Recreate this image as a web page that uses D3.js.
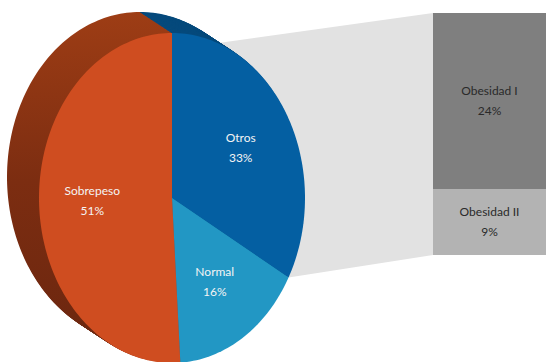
<!DOCTYPE html>
<html lang="en">
<head>
<meta charset="utf-8"/>
<title>Pie of bar</title>
<script src="https://d3js.org/d3.v7.min.js"></script>
<style>
  body { margin: 0; background: #fff; }
  text { font-family: Lato, "Open Sans", sans-serif; font-size: 12px; }
</style>
</head>
<body>
<script>
var w = 546, h = 362;

// main pie
var pieLabels = ["Otros", "Normal", "Sobrepeso"];
var pieValues = [33, 16, 51];
var pieColours = ["#045fa2", "#2297c4", "#cf4d20"];
var sideColours = ["#064a7c", "#1a789e", "url(#sideOrange)"];

// bar that splits "Otros"
var barLabels = ["Obesidad I", "Obesidad II"];
var barValues = [24, 9];
var barColours = ["#7f7f7f", "#b3b3b3"];

// geometry of the tilted pie
var cx = 172, cy = 198, rx = 133, ry = 165;
var depthX = -32, depthY = -21, steps = 32;
var barX = 433, barW = 113, barTop = 13, barBottom = 255;

var svg = d3.select("body").append("svg")
    .attr("width", w)
    .attr("height", h);

var grad = svg.append("defs").append("linearGradient")
    .attr("id", "sideOrange")
    .attr("gradientUnits", "userSpaceOnUse")
    .attr("x1", 0).attr("y1", 0).attr("x2", 0).attr("y2", h);
grad.append("stop").attr("offset", 0).attr("stop-color", "#a03e15");
grad.append("stop").attr("offset", 0.5).attr("stop-color", "#7c2d11");
grad.append("stop").attr("offset", 1).attr("stop-color", "#6a260f");

var pie = d3.pie().sort(null).startAngle(0).endAngle(2 * Math.PI);
var arcs = pie(pieValues);

// point on the ellipse, angle clockwise from top
function pt(a, k, ox, oy) {
    return [cx + ox + rx * k * Math.sin(a), cy + oy - ry * k * Math.cos(a)];
}
function slicePath(d, ox, oy) {
    var n = Math.max(4, Math.ceil((d.endAngle - d.startAngle) * 40));
    var pts = [[cx + ox, cy + oy]];
    for (var i = 0; i <= n; i++) {
        pts.push(pt(d.startAngle + (d.endAngle - d.startAngle) * i / n, 1, ox, oy));
    }
    return d3.line()(pts) + "Z";
}

// bar scale
var total = d3.sum(barValues);
var y = d3.scaleLinear().domain([0, total]).range([barBottom, barTop]);

// connector (behind everything)
var otrosEnd = pt(arcs[0].endAngle, 1, 0, 0);
svg.append("path")
    .attr("d", d3.line()([[barX, y(total)], [barX, y(0)], otrosEnd, [cx, cy], [cx, cy - ry * 0.9]]) + "Z")
    .attr("fill", "#e2e2e2");

// depth of the pie: stacked copies from back to front
for (var s = 0; s < steps; s++) {
    var t = 1 - s / steps;
    svg.append("g").selectAll("path")
        .data(arcs)
        .enter()
        .append("path")
        .attr("d", function(d) { return slicePath(d, depthX * t, depthY * t); })
        .attr("fill", function(d, i) { return sideColours[i]; });
}

// front face
svg.append("g").selectAll("path")
    .data(arcs)
    .enter()
    .append("path")
    .attr("d", function(d) { return slicePath(d, 0, 0); })
    .attr("fill", function(d, i) { return pieColours[i]; });

// pie labels
var pl = svg.append("g").selectAll("text")
    .data(arcs)
    .enter()
    .append("text")
    .attr("text-anchor", "middle")
    .attr("fill", "#f4f4f4")
    .attr("transform", function(d) {
        return "translate(" + pt((d.startAngle + d.endAngle) / 2, 0.6, 0, 0) + ")";
    });
pl.append("tspan").attr("x", 0).attr("y", -6).text(function(d, i) { return pieLabels[i]; });
pl.append("tspan").attr("x", 0).attr("y", 14).text(function(d, i) { return pieValues[i] + "%"; });

// bar segments, Obesidad I on top
var cum = [barValues[1], 0];
var bars = svg.append("g").selectAll("g")
    .data(barValues)
    .enter()
    .append("g");
bars.append("rect")
    .attr("x", barX)
    .attr("width", barW)
    .attr("y", function(d, i) { return y(cum[i] + d); })
    .attr("height", function(d, i) { return y(cum[i]) - y(cum[i] + d); })
    .attr("fill", function(d, i) { return barColours[i]; });
var bl = bars.append("text")
    .attr("text-anchor", "middle")
    .attr("fill", "#2a2a2a")
    .attr("transform", function(d, i) {
        return "translate(" + (barX + barW / 2) + "," + (y(cum[i] + d / 2)) + ")";
    });
bl.append("tspan").attr("x", 0).attr("y", -6).text(function(d, i) { return barLabels[i]; });
bl.append("tspan").attr("x", 0).attr("y", 14).text(function(d) { return d + "%"; });
</script>
</body>
</html>
